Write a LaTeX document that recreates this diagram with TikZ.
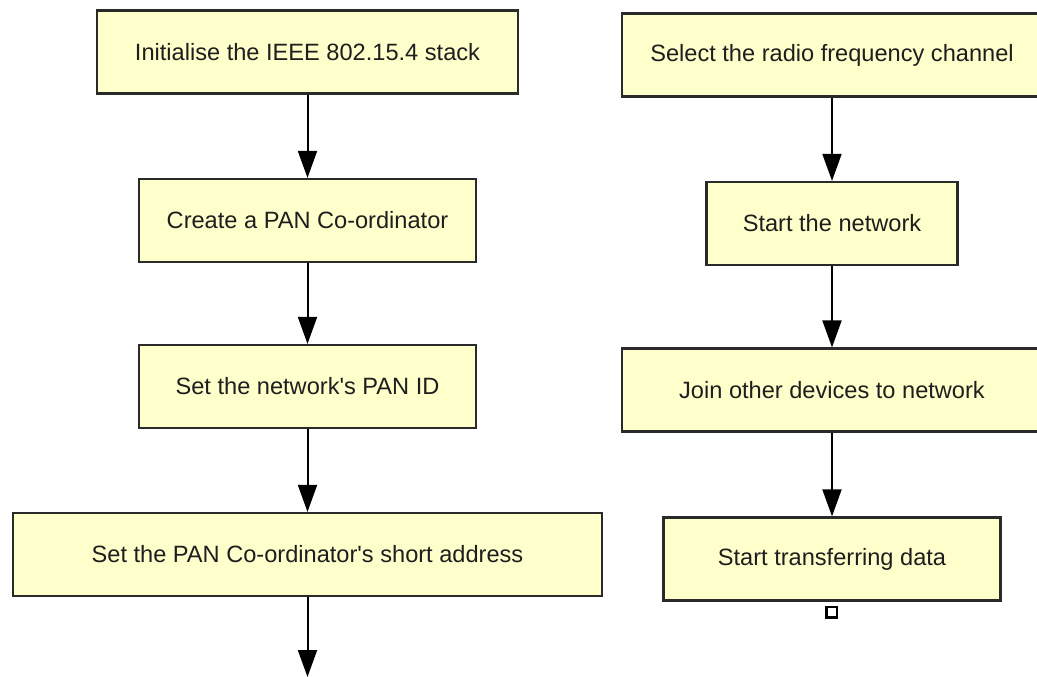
\documentclass[tikz,border=0pt]{standalone}
\usepackage{fontspec}
\setmainfont{Liberation Sans}
\usetikzlibrary{arrows.meta}

\definecolor{boxfill}{HTML}{FFFFCC}
\definecolor{boxline}{HTML}{2A2A2A}
\definecolor{boxtext}{HTML}{1E1E1E}

\tikzset{
  stepbox/.style={draw=boxline, line width=2.2pt, fill=boxfill, inner sep=0pt,
    minimum height=83pt, text=boxtext,
    font=\fontsize{23.6}{28}\selectfont},
  flow/.style={draw=black, line width=2pt,
    -{Triangle[width=19pt, length=27pt]}},
  handle/.style={draw=black, line width=2.5pt, fill=white, inner sep=0pt,
    minimum size=10.5pt}
}

\begin{document}
\begin{tikzpicture}[x=1pt, y=-1pt]
  \path[use as bounding box, clip] (0,0) rectangle (1037,677);
  \fill[white] (0,0) rectangle (1037,677);

  % left column: stack and co-ordinator set-up
  \node[stepbox, minimum width=421pt] (init)  at (307.5,52)    {Initialise the IEEE 802.15.4 stack};
  \node[stepbox, minimum width=337pt] (coord) at (307.5,220.5) {Create a PAN Co-ordinator};
  \node[stepbox, minimum width=337pt] (panid) at (307.5,386.5) {Set the network\textquotesingle s PAN ID};
  \node[stepbox, minimum width=589pt] (addr)  at (307.5,554.5) {Set the PAN Co-ordinator\textquotesingle s short address};
  \coordinate (cont) at (307.5,677);

  % right column: channel, network start and data transfer
  \node[stepbox, minimum width=420pt] (chan)  at (832,55)    {Select the radio frequency channel};
  \node[stepbox, minimum width=251pt] (start) at (832,223.5) {Start the network};
  \node[stepbox, minimum width=420pt] (join)  at (832,390)   {Join other devices to network};
  \node[stepbox, minimum width=337pt] (data)  at (832,559)   {Start transferring data};
  \node[handle] (port) at (831.5,612) {};

  \draw[flow] (init)  -- (coord);
  \draw[flow] (coord) -- (panid);
  \draw[flow] (panid) -- (addr);
  \draw[flow] (addr.south) -- (cont);

  \draw[flow] (chan)  -- (start);
  \draw[flow] (start) -- (join);
  \draw[flow] (join)  -- (data);
\end{tikzpicture}
\end{document}
